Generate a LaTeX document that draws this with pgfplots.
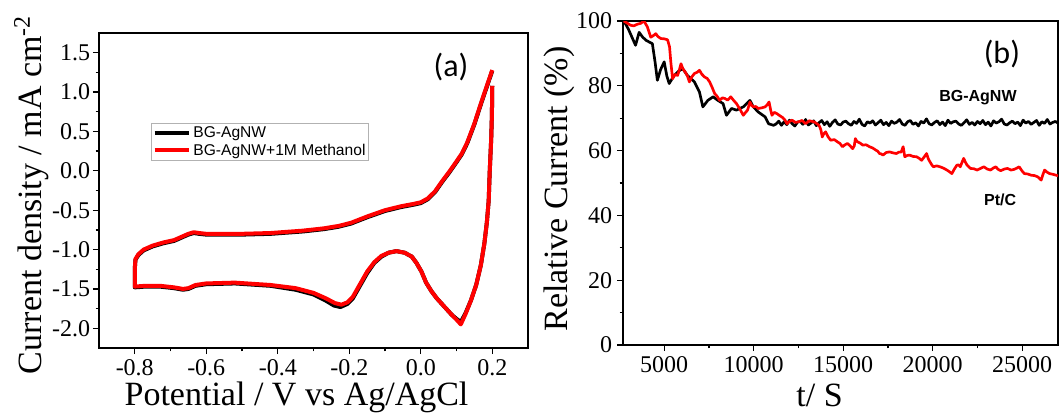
\documentclass[border=0pt]{standalone}
\usepackage{fontspec}
\setmainfont{Liberation Serif}
\newfontfamily\arial{Liberation Sans}
\newfontfamily\calibri{Carlito}
\usepackage{pgfplots}
\pgfplotsset{compat=1.18}
\definecolor{myred}{RGB}{255,0,0}
\pgfplotsset{
  mybase/.style={
    scale only axis, anchor=south west,
    tick align=outside, tick pos=left,
    major tick length=4.5pt, minor tick length=2.5pt,
    axis line style={line width=1.1pt},
    every tick/.style={black, line width=1pt},
    ticklabel style={font=\fontsize{18}{18}\selectfont},
    label style={font=\fontsize{25.5}{25.5}\selectfont},
    /pgf/number format/assume math mode=true,
    clip=true,
  }
}
\begin{document}
\begin{tikzpicture}
\useasboundingbox (0,0) rectangle (794.25pt,309pt);
% ---------------- panel (a)
\begin{axis}[mybase,
  at={(74.25pt,48pt)}, width=321.75pt, height=236.25pt,
  xmin=-0.9, xmax=0.3, ymin=-2.25, ymax=1.75,
  xtick={-0.8,-0.6,-0.4,-0.2,0.0,0.2},
  ytick={-2.0,-1.5,-1.0,-0.5,0.0,0.5,1.0,1.5},
  minor x tick num=1, minor y tick num=1,
  xticklabel style={anchor=base, yshift=-16pt, /pgf/number format/.cd, fixed, fixed zerofill, precision=1},
  yticklabel style={anchor=east, inner sep=0pt, xshift=-2pt, /pgf/number format/.cd, fixed, fixed zerofill, precision=1},
  xlabel={Potential / V vs Ag/AgCl},
  ylabel={Current density / mA cm\textsuperscript{-2}},
  xlabel style={at={(axis description cs:0.4604,-0.181)}, anchor=base},
  ylabel style={at={(axis description cs:-0.1329,0.4857)}, anchor=base},
  legend style={at={(axis description cs:0.1212,0.714)}, anchor=north west,
    draw=gray!60, line width=0.6pt, font=\arial\fontsize{11.7}{12}\selectfont,
    inner xsep=1pt, inner ysep=1pt, row sep=0pt,
    nodes={inner sep=1.5pt}},
  legend cell align=left,
  legend image code/.code={\draw[#1, line width=3pt] (0pt,0pt) -- (26pt,0pt);},
]
\addplot[black, line width=3pt, line join=round] coordinates {
(0.200,1.08) (0.199,0.70) (0.197,0.40) (0.193,0.00) (0.190,-0.38) (0.185,-0.65)
(0.178,-0.92) (0.168,-1.20) (0.155,-1.45) (0.140,-1.65) (0.125,-1.81) (0.112,-1.92)
(0.100,-1.88) (0.087,-1.83) (0.065,-1.72) (0.045,-1.62) (0.030,-1.53) (0.015,-1.42)
(0.002,-1.28) (-0.012,-1.17) (-0.025,-1.09) (-0.045,-1.04) (-0.068,-1.02) (-0.090,-1.04)
(-0.110,-1.09) (-0.130,-1.17) (-0.150,-1.30) (-0.170,-1.46) (-0.190,-1.62) (-0.205,-1.69)
(-0.225,-1.73) (-0.243,-1.71) (-0.265,-1.65) (-0.300,-1.57) (-0.350,-1.51) (-0.420,-1.46)
(-0.520,-1.43) (-0.600,-1.44) (-0.630,-1.46) (-0.650,-1.50) (-0.665,-1.51) (-0.690,-1.49)
(-0.730,-1.47) (-0.770,-1.47) (-0.800,-1.48) (-0.800,-1.25) (-0.798,-1.13) (-0.790,-1.07)
(-0.775,-1.01) (-0.750,-0.96) (-0.720,-0.92) (-0.690,-0.89) (-0.670,-0.85) (-0.650,-0.81)
(-0.635,-0.79) (-0.620,-0.80) (-0.600,-0.81) (-0.500,-0.81) (-0.420,-0.80) (-0.330,-0.77)
(-0.270,-0.74) (-0.230,-0.71) (-0.195,-0.67) (-0.150,-0.59) (-0.100,-0.51) (-0.055,-0.46)
(-0.020,-0.43) (0.000,-0.41) (0.020,-0.36) (0.040,-0.27) (0.060,-0.14) (0.080,-0.02)
(0.100,0.11) (0.115,0.21) (0.130,0.35) (0.150,0.59) (0.170,0.87) (0.185,1.07) (0.200,1.27)
};
\addlegendentry{BG-AgNW}
\addplot[myred, line width=3pt, line join=round] coordinates {
(0.200,1.08) (0.199,0.70) (0.197,0.40) (0.193,0.00) (0.190,-0.38) (0.185,-0.65)
(0.178,-0.92) (0.168,-1.20) (0.155,-1.45) (0.140,-1.65) (0.125,-1.82) (0.112,-1.95)
(0.100,-1.89) (0.087,-1.83) (0.065,-1.72) (0.045,-1.62) (0.030,-1.53) (0.015,-1.42)
(0.002,-1.28) (-0.012,-1.17) (-0.025,-1.09) (-0.045,-1.04) (-0.068,-1.02) (-0.090,-1.04)
(-0.110,-1.08) (-0.130,-1.16) (-0.150,-1.28) (-0.170,-1.44) (-0.190,-1.60) (-0.205,-1.67)
(-0.222,-1.70) (-0.240,-1.68) (-0.265,-1.62) (-0.300,-1.55) (-0.350,-1.49) (-0.420,-1.45)
(-0.520,-1.42) (-0.600,-1.43) (-0.630,-1.45) (-0.650,-1.49) (-0.665,-1.50) (-0.690,-1.48)
(-0.730,-1.46) (-0.770,-1.46) (-0.800,-1.47) (-0.800,-1.25) (-0.798,-1.12) (-0.790,-1.06)
(-0.775,-1.00) (-0.750,-0.95) (-0.720,-0.91) (-0.690,-0.88) (-0.670,-0.84) (-0.650,-0.80)
(-0.635,-0.78) (-0.620,-0.79) (-0.600,-0.80) (-0.500,-0.80) (-0.420,-0.79) (-0.330,-0.76)
(-0.270,-0.73) (-0.230,-0.70) (-0.195,-0.66) (-0.150,-0.58) (-0.100,-0.50) (-0.055,-0.45)
(-0.020,-0.42) (0.000,-0.40) (0.020,-0.35) (0.040,-0.26) (0.060,-0.13) (0.080,-0.01)
(0.100,0.12) (0.115,0.22) (0.130,0.36) (0.150,0.60) (0.170,0.88) (0.185,1.08) (0.200,1.28)
};
\addlegendentry{BG-AgNW+1M Methanol}
\node[font=\calibri\fontsize{24}{24}\selectfont] at (axis description cs:0.8205,0.892) {(a)};
\end{axis}
% ---------------- panel (b)
\begin{axis}[mybase,
  at={(467.25pt,50.25pt)}, width=326.25pt, height=243pt,
  xmin=2700, xmax=27000, ymin=0, ymax=100,
  xtick={5000,10000,15000,20000,25000},
  ytick={0,20,40,60,80,100},
  minor x tick num=1, minor y tick num=1,
  scaled ticks=false,
  xticklabel style={anchor=base, yshift=-16pt, /pgf/number format/.cd, 1000 sep={}},
  yticklabel style={anchor=east, inner sep=0pt, xshift=-3.5pt},
  xlabel={t/ S},
  ylabel={Relative Current (\%)},
  xlabel style={at={(axis description cs:0.452,-0.19)}, anchor=base},
  ylabel style={at={(axis description cs:-0.1287,0.4815)}, anchor=base},
]
\addplot[black, line width=2pt, line join=round] table {
x y
2750 100
3000 97.5
3200 95
3400 92.5
3600 96.5
3800 95
4000 94
4340 93
4500 87
4620 81.7
4800 85
5000 87.4
5150 83
5280 80.7
5560 83.2
5800 84.5
6030 85.3
6300 83.2
6690 81.2
6970 78.1
7160 73.5
7440 75.5
7730 76.6
8000 75.5
8290 74.5
8480 70.9
8760 73
9040 72.5
9420 73.5
9790 75.5
9980 73.5
10260 71.9
10640 70.4
10830 68.3
11110 67.8
11250 68.2
11400 69.1
11550 67.8
11700 68.9
11850 68.0
12000 69.4
12150 68.3
12300 67.6
12450 68.8
12600 69.0
12750 68.1
12900 69.6
13050 67.9
13200 68.5
13350 69.2
13500 67.7
13650 68.6
13800 69.3
13950 68.0
14100 68.9
14250 67.5
14400 68.7
14550 69.5
14700 68.2
14850 67.9
15000 68.8
15150 69.1
15300 68.3
15450 67.8
15600 69.0
15750 68.4
15900 69.7
16050 68.1
16200 67.6
16350 68.9
16500 68.5
16650 69.2
16800 67.9
16950 68.6
17100 69.4
17250 68.0
17400 68.7
17550 67.7
17700 69.1
17850 68.4
18000 68.8
18150 69.6
18300 68.2
18450 67.8
18600 68.9
18750 69.3
18900 68.1
19050 68.6
19200 67.6
19350 69.0
19500 68.5
19650 69.8
19800 68.3
19950 67.9
20100 68.7
20250 69.2
20400 68.0
20550 68.8
20700 67.7
20850 69.4
21000 68.4
21150 68.9
21300 69.1
21450 68.2
21600 67.8
21750 68.6
21900 69.5
22050 68.1
22200 68.7
22350 67.9
22500 69.0
22650 68.3
22800 69.3
22950 68.0
23100 68.8
23250 67.6
23400 69.2
23550 68.5
23700 68.9
23850 69.7
24000 68.2
24150 67.9
24300 68.6
24450 69.1
24600 68.3
24750 68.8
24900 67.7
25050 69.4
25200 68.5
25350 69.0
25500 68.1
25650 68.7
25800 69.3
25950 67.8
26100 68.9
26250 68.4
26400 69.6
26550 68.2
26700 68.7
26850 69.0
27000 68.5
};
\addplot[myred, line width=2pt, line join=round] table {
x y
2740 100
2950 99.3
3120 98.7
3300 98.5
3500 99
3700 99.3
3870 100
4060 98.2
4250 95
4400 95.5
4530 96.1
4650 95.2
4810 94.6
5000 94.5
5190 94.2
5300 92
5380 86.8
5470 82.2
5600 83.5
5750 83.2
5850 85
5940 86.8
6050 85.2
6170 84.3
6300 83
6410 81.2
6550 82.8
6690 83.8
6850 84.2
6970 84.8
7100 83.6
7260 82.7
7400 82.3
7540 81.2
7680 79.5
7820 77.6
7950 76.8
8100 75.5
8250 76.3
8380 76.1
8550 75.6
8720 76.6
8880 75.5
9040 74.5
9230 72.8
9420 70.9
9550 71.8
9660 72.5
9790 75
9880 74
9980 73.5
10120 73.6
10260 73
10450 73.2
10640 73.5
10760 74.2
10860 75
10950 72.5
11020 70.9
11150 71.8
11300 71.4
11450 70.8
11620 70.2
11750 69.4
11860 68.3
12000 69
12140 69.4
12330 68.7
12520 68.9
12700 69.3
12900 68.3
13100 69.2
13370 68.9
13500 68.4
13650 67.8
13750 66.5
13830 64.2
13920 65.2
14020 65.8
14150 64.3
14300 63.2
14500 63.4
14680 62.7
14820 62.2
14960 61.2
15100 61.8
15240 62.2
15380 61.5
15530 60.6
15620 61.5
15680 63.7
15750 63
15810 62.7
15950 62.3
16090 61.7
16280 61.8
16470 61.2
16650 60.8
16840 60.1
16930 59.8
17030 59.1
17120 59
17220 58.6
17400 59.4
17590 59.6
17780 59.3
17970 59.1
18100 59.5
18250 59.6
18300 60.5
18350 61.2
18400 59.5
18440 58.1
18580 58.5
18720 58.6
18900 58.2
19100 58.1
19250 57.6
19380 57
19520 58
19660 59.1
19750 57.5
19850 56.5
19950 55.6
20040 55
20220 55.3
20410 55
20600 54.6
20790 54
20930 53.5
21070 52.9
21200 54.2
21350 55.5
21450 55.6
21540 55
21640 56.4
21730 57.6
21820 56.5
21920 55.5
22020 55
22110 54.5
22300 54.4
22480 54
22670 54.5
22860 55
23050 54.3
23230 54
23380 54.6
23520 55
23660 54.2
23800 53.8
24000 54.3
24180 54.5
24370 54
24550 54.2
24700 54.6
24830 55
24980 53.8
25120 52.9
25300 52.8
25500 52.4
25680 52.3
25870 51.9
25960 51.4
26060 50.9
26150 52.5
26250 54
26400 53.3
26530 52.9
26700 52.7
26900 52.4
27000 52.2
};
\node[font=\calibri\fontsize{24}{24}\selectfont] at (axis description cs:0.871,0.898) {(b)};
\node[font=\arial\bfseries\fontsize{12}{12}\selectfont] at (axis description cs:0.816,0.765) {BG-AgNW};
\node[font=\arial\bfseries\fontsize{12}{12}\selectfont] at (axis description cs:0.867,0.4475) {Pt/C};
\end{axis}
\end{tikzpicture}
\end{document}
